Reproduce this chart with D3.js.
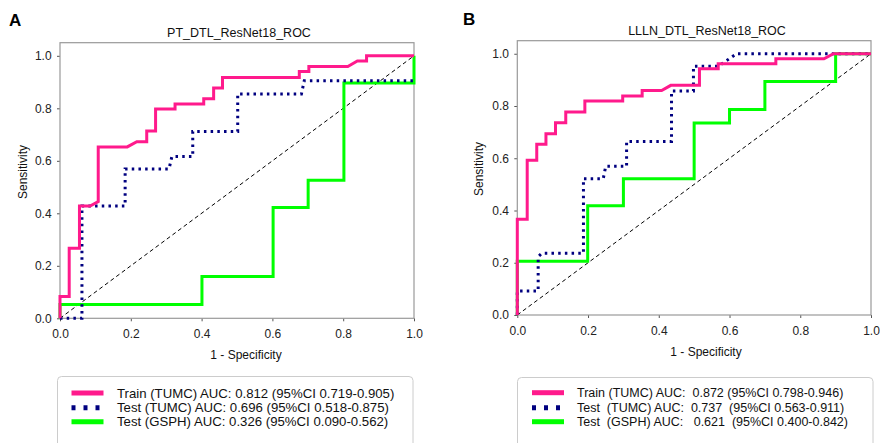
<!DOCTYPE html>
<html>
<head>
<meta charset="utf-8">
<script src="https://cdn.jsdelivr.net/npm/d3@7"></script>
<style>
  body { margin: 0; background: #fff; }
  svg text { font-family: "Liberation Sans", Arial, sans-serif; white-space: pre; }
</style>
</head>
<body>
<svg id="chart" width="880" height="443"></svg>
<script>
// ROC points [1 - specificity, sensitivity]
var trainA = [[0,0],[0,0.083],[0.026,0.083],[0.026,0.267],[0.055,0.267],[0.055,0.428],[0.085,0.428],[0.108,0.445],[0.108,0.653],[0.19,0.653],[0.217,0.673],[0.245,0.673],[0.245,0.714],[0.27,0.714],[0.27,0.797],[0.325,0.797],[0.325,0.816],[0.406,0.816],[0.406,0.836],[0.434,0.836],[0.434,0.877],[0.459,0.877],[0.459,0.917],[0.676,0.917],[0.676,0.94],[0.703,0.94],[0.703,0.959],[0.813,0.959],[0.84,0.98],[0.866,0.98],[0.866,1],[1,1]];
var testTumcA = [[0,0],[0.062,0],[0.062,0.428],[0.184,0.428],[0.184,0.569],[0.308,0.569],[0.316,0.616],[0.375,0.616],[0.375,0.712],[0.502,0.712],[0.502,0.855],[0.682,0.855],[0.69,0.905],[1,0.905]];
var testGsphA = [[0,0],[0,0.053],[0.401,0.053],[0.401,0.159],[0.602,0.159],[0.602,0.422],[0.701,0.422],[0.701,0.526],[0.802,0.526],[0.802,0.896],[1,0.896],[1,1]];

var trainB = [[0,0],[0,0.367],[0.028,0.367],[0.028,0.592],[0.055,0.592],[0.055,0.654],[0.081,0.654],[0.081,0.694],[0.108,0.694],[0.108,0.736],[0.137,0.736],[0.137,0.777],[0.191,0.777],[0.191,0.819],[0.298,0.819],[0.298,0.838],[0.353,0.838],[0.353,0.859],[0.408,0.859],[0.434,0.879],[0.515,0.879],[0.515,0.943],[0.568,0.943],[0.568,0.962],[0.731,0.962],[0.731,0.981],[0.867,0.981],[0.894,1],[1,1]];
var testTumcB = [[0,0],[0,0.092],[0.059,0.092],[0.059,0.223],[0.069,0.236],[0.187,0.236],[0.187,0.522],[0.243,0.522],[0.25,0.569],[0.309,0.569],[0.309,0.664],[0.436,0.664],[0.436,0.857],[0.498,0.857],[0.498,0.952],[0.568,0.952],[0.62,1],[1,1]];
var testGsphB = [[0,0],[0,0.206],[0.199,0.206],[0.199,0.418],[0.3,0.418],[0.3,0.522],[0.5,0.522],[0.5,0.735],[0.6,0.735],[0.6,0.787],[0.7,0.787],[0.7,0.894],[0.9,0.894],[0.9,1],[1,1]];

var ticks = [0, 0.2, 0.4, 0.6, 0.8, 1.0];

var legendA = ["Train (TUMC) AUC: 0.812 (95%CI 0.719-0.905)",
               "Test (TUMC) AUC: 0.696 (95%CI 0.518-0.875)",
               "Test (GSPH) AUC: 0.326 (95%CI 0.090-0.562)"];
var legendB = ["Train (TUMC) AUC:  0.872 (95%CI 0.798-0.946)",
               "Test  (TUMC) AUC:  0.737  (95%CI 0.563-0.911)",
               "Test  (GSPH) AUC:   0.621  (95%CI 0.400-0.842)"];

var svg = d3.select('#chart');

var styles = [
    {color: '#ff1a8c', width: 3, dash: null, legDash: null, legWidth: 5},
    {color: '#000080', width: 3, dash: '2.5,4.2', legDash: '4,8', legWidth: 5},
    {color: '#00ff00', width: 3, dash: null, legDash: null, legWidth: 5}
];

function drawPanel(cfg) {
    var x = d3.scaleLinear().domain([0, 1]).range([cfg.left, cfg.right]);
    var y = d3.scaleLinear().domain([0, 1.05]).range([cfg.bottom, cfg.top]);

    svg.append('text').attr('x', cfg.letterX).attr('y', cfg.letterY)
        .attr('font-size', 17).attr('font-weight', 'bold').text(cfg.letter);

    svg.append('text').attr('x', cfg.titleX).attr('y', cfg.titleY)
        .attr('text-anchor', 'middle').attr('font-size', 12.5).attr('fill', '#111')
        .text(cfg.title);

    // axes
    var xAxis = d3.axisBottom(x).tickValues(ticks).tickSize(3).tickFormat(d3.format('.1f'));
    var yAxis = d3.axisLeft(y).tickValues(ticks).tickSize(3).tickFormat(d3.format('.1f'));

    var gx = svg.append('g').attr('transform', 'translate(0,' + cfg.bottom + ')').call(xAxis);
    var gy = svg.append('g').attr('transform', 'translate(' + cfg.left + ',0)').call(yAxis);
    [gx, gy].forEach(function (g) {
        g.select('.domain').remove();
        g.selectAll('line').attr('stroke', '#555');
        g.selectAll('text').attr('font-size', 12).attr('fill', '#222')
            .style('font-family', '"Liberation Sans", Arial, sans-serif');
    });
    gx.selectAll('text').attr('dy', '1.15em');
    gy.selectAll('text').attr('dx', '-0.2em');

    // frame
    svg.append('rect')
        .attr('x', cfg.left).attr('y', cfg.top)
        .attr('width', cfg.right - cfg.left).attr('height', cfg.bottom - cfg.top)
        .attr('fill', 'none').attr('stroke', '#999').attr('stroke-width', 1.2);

    var line = d3.line().x(function (d) { return x(d[0]); }).y(function (d) { return y(d[1]); });

    svg.append('path').datum([[0, 0], [1, 1]])
        .attr('d', line).attr('fill', 'none')
        .attr('stroke', '#000').attr('stroke-width', 1).attr('stroke-dasharray', '4,3');

    // draw in order green, blue, pink like the figure
    [2, 1, 0].forEach(function (i) {
        var s = styles[i];
        svg.append('path').datum(cfg.series[i])
            .attr('d', line).attr('fill', 'none')
            .attr('stroke', s.color).attr('stroke-width', s.width)
            .attr('stroke-dasharray', s.dash);
    });

    svg.append('text').attr('x', cfg.xlabX).attr('y', cfg.xlabY)
        .attr('text-anchor', 'middle').attr('font-size', 12).attr('fill', '#111')
        .text('1 - Specificity');

    svg.append('text')
        .attr('transform', 'translate(' + cfg.ylabX + ',' + cfg.ylabY + ') rotate(-90)')
        .attr('text-anchor', 'middle').attr('font-size', 12).attr('fill', '#111')
        .text('Sensitivity');

    // legend
    svg.append('rect')
        .attr('x', cfg.legLeft).attr('y', cfg.legTop)
        .attr('width', cfg.legRight - cfg.legLeft).attr('height', 90)
        .attr('rx', 4).attr('fill', '#fff').attr('stroke', '#ccc').attr('stroke-width', 1);

    cfg.legend.forEach(function (label, i) {
        var s = styles[i];
        var ly = cfg.legRows[i];
        svg.append('line')
            .attr('x1', cfg.legLineX).attr('x2', cfg.legLineX + 32)
            .attr('y1', ly).attr('y2', ly)
            .attr('stroke', s.color).attr('stroke-width', s.legWidth)
            .attr('stroke-dasharray', s.legDash);
        svg.append('text').attr('x', cfg.legTextX).attr('y', ly + 4.6)
            .attr('font-size', cfg.legFont).attr('fill', '#111').text(label);
    });
}

drawPanel({
    letter: 'A', letterX: 9, letterY: 26,
    title: 'PT_DTL_ResNet18_ROC', titleX: 239, titleY: 37,
    left: 60, right: 414, top: 42.7, bottom: 318.3,
    xlabX: 246, xlabY: 359, ylabX: 27, ylabY: 172,
    series: [trainA, testTumcA, testGsphA],
    legend: legendA, legFont: 13.2, legLeft: 57.5, legRight: 413, legTop: 376.5,
    legRows: [393, 407.7, 421.7], legLineX: 71.5, legTextX: 117
});

drawPanel({
    letter: 'B', letterX: 463, letterY: 25,
    title: 'LLLN_DTL_ResNet18_ROC', titleX: 707, titleY: 35,
    left: 517.3, right: 871, top: 40.7, bottom: 315,
    xlabX: 706, xlabY: 356, ylabX: 483, ylabY: 169,
    series: [trainB, testTumcB, testGsphB],
    legend: legendB, legFont: 12.5, legLeft: 517.5, legRight: 873, legTop: 377.5,
    legRows: [392.7, 407.7, 421.7], legLineX: 532, legTextX: 577
});
</script>
</body>
</html>
